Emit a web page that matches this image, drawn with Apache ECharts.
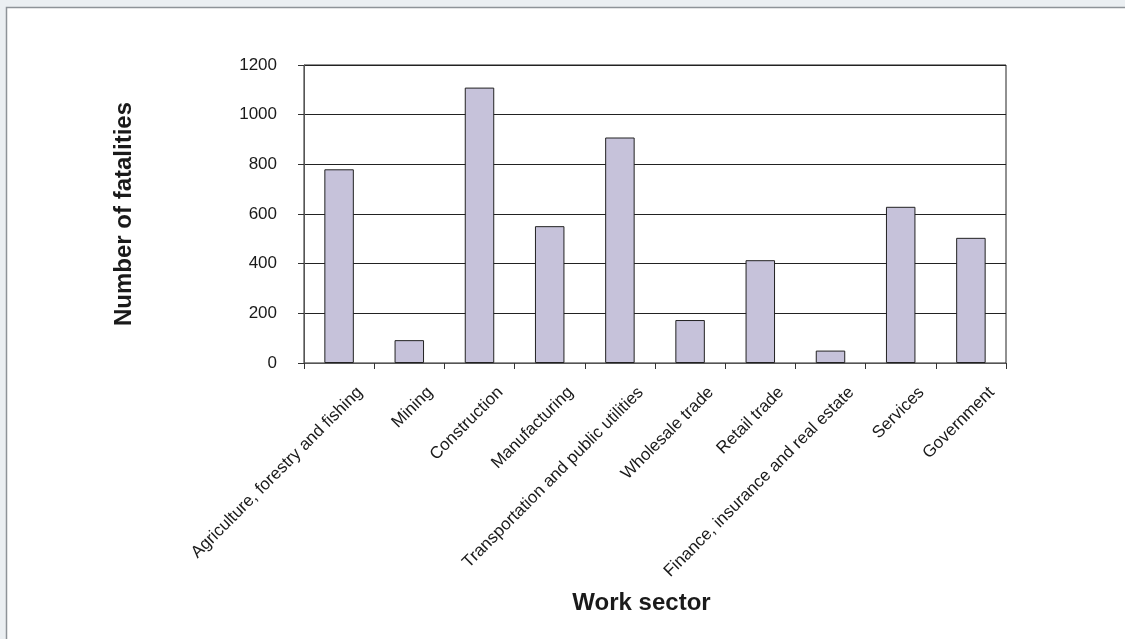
<!DOCTYPE html>
<html>
<head>
<meta charset="utf-8">
<script src="https://cdn.jsdelivr.net/npm/echarts@6/dist/echarts.min.js"></script>
<style>
html,body{margin:0;padding:0;background:#ebeff2;}
#chart{width:1125px;height:639px;}
</style>
</head>
<body>
<div id="chart"></div>
<script>
const categories = [
  'Agriculture, forestry and fishing',
  'Mining',
  'Construction',
  'Manufacturing',
  'Transportation and public utilities',
  'Wholesale trade',
  'Retail trade',
  'Finance, insurance and real estate',
  'Services',
  'Government'
];
const fatalities = [780, 92, 1109, 551, 908, 173, 414, 50, 629, 504];
const yTicks = [0, 200, 400, 600, 800, 1000, 1200];

const chart = echarts.init(document.getElementById('chart'));
chart.setOption({
  backgroundColor: '#ebeff2',
  animation: false,
  graphic: [{
    type: 'rect',
    z: -10,
    shape: {x: 6.5, y: 7.5, width: 1130, height: 640},
    style: {fill: '#ffffff', stroke: '#8e9398', lineWidth: 1.5}
  }],
  grid: {
    left: 304, right: 119, top: 65, bottom: 276,
    show: true, borderColor: '#222', borderWidth: 1, backgroundColor: 'transparent'
  },
  xAxis: {
    type: 'category',
    data: categories,
    name: 'Work sector',
    nameLocation: 'middle',
    nameGap: 228,
    nameTextStyle: {fontFamily: 'Liberation Sans', fontSize: 24, fontWeight: 'bold', color: '#1a1a1a', padding: [0, 27, 0, 0]},
    axisLine: {lineStyle: {color: '#555', width: 1}},
    axisTick: {show: true, alignWithLabel: false, length: 6, lineStyle: {color: '#333'}},
    axisLabel: {
      rotate: 45, interval: 0, margin: 6,
      verticalAlign: 'top',
      padding: [21, 0, 0, 0],
      fontFamily: 'Liberation Sans', fontSize: 17, color: '#1a1a1a'
    }
  },
  yAxis: {
    type: 'value',
    min: 0, max: 1200, interval: 200,
    name: 'Number of fatalities',
    nameLocation: 'middle',
    nameGap: 168,
    nameRotate: 90,
    nameTextStyle: {fontFamily: 'Liberation Sans', fontSize: 24, fontWeight: 'bold', color: '#1a1a1a'},
    axisLine: {show: true, lineStyle: {color: '#555', width: 1}},
    axisTick: {show: true, length: 6, lineStyle: {color: '#333'}},
    axisLabel: {
      margin: 27,
      fontFamily: 'Liberation Sans', fontSize: 17, color: '#1a1a1a',
      formatter: v => yTicks.includes(v) ? String(v) : ''
    },
    splitLine: {show: true, lineStyle: {color: '#222', width: 1}}
  },
  series: [{
    type: 'bar',
    data: fatalities,
    barWidth: '42%',
    itemStyle: {color: '#c6c2da', borderColor: '#222', borderWidth: 1}
  }]
});
</script>
</body>
</html>
